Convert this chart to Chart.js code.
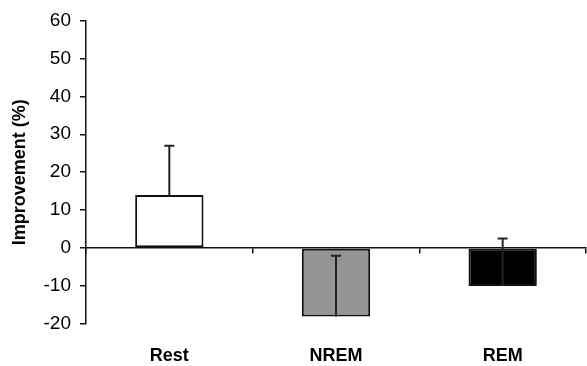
<!DOCTYPE html>
<html>
<head>
<meta charset="utf-8">
<script src="https://cdn.jsdelivr.net/npm/chart.js@4.4.0/dist/chart.umd.min.js"></script>
<style>
  html,body{margin:0;padding:0;background:#fff;}
  #wrap{width:587px;height:366px;}
</style>
</head>
<body>
<div id="wrap"><canvas id="chart"></canvas></div>
<script>
// Data
const categories = ['Rest', 'NREM', 'REM'];
const improvement = [14, -18, -10];
const errorTop = [27, -2, 2.5];
const barColors = ['#ffffff', '#959595', '#000000'];

// Error bars, drawn from each bar's value up to errorTop
const errorBars = {
  id: 'errorBars',
  afterDatasetsDraw(chart) {
    const {ctx, scales: {x, y}} = chart;
    ctx.save();
    ctx.strokeStyle = '#222';
    ctx.lineWidth = 2;
    errorTop.forEach((v, i) => {
      const px = x.getPixelForValue(i);
      const y0 = y.getPixelForValue(improvement[i]);
      const y1 = y.getPixelForValue(v);
      ctx.beginPath();
      ctx.moveTo(px, y0); ctx.lineTo(px, y1);
      ctx.moveTo(px - 5, y1); ctx.lineTo(px + 5, y1);
      ctx.stroke();
    });
    ctx.restore();
  }
};

const ctx = document.getElementById('chart').getContext('2d');
new Chart(ctx, {
  type: 'bar',
  data: {
    labels: categories,
    datasets: [{
      data: improvement,
      backgroundColor: barColors,
      borderColor: '#111',
      borderWidth: 2,
      borderSkipped: false,
      categoryPercentage: 1,
      barPercentage: 0.41
    }]
  },
  options: {
    responsive: true,
    maintainAspectRatio: false,
    animation: false,
    layout: {padding: {top: 14, right: 1, left: 9, bottom: 0}},
    plugins: {legend: {display: false}, tooltip: {enabled: false}},
    scales: {
      x: {
        position: {y: 0},
        offset: true,
        border: {color: '#111', width: 1.5},
        grid: {offset: true, drawOnChartArea: false, drawTicks: true, tickLength: 5, color: '#111', lineWidth: 1.5},
        ticks: {display: false}
      },
      x2: {
        type: 'category',
        position: 'bottom',
        offset: true,
        border: {display: false},
        grid: {display: false},
        ticks: {color: '#000', padding: 13, font: {family: 'Liberation Sans', size: 18, weight: 'bold'}},
        afterFit(s) { s.height = 42; }
      },
      y: {
        min: -20, max: 60,
        border: {color: '#111', width: 1.5},
        grid: {drawOnChartArea: false, drawTicks: true, tickLength: 6, color: '#111', lineWidth: 1.5},
        ticks: {stepSize: 10, color: '#000', padding: 9, font: {family: 'Liberation Sans', size: 19}},
        title: {display: true, text: 'Improvement (%)', color: '#000', padding: {top: 0, bottom: 9}, font: {family: 'Liberation Sans', size: 18, weight: 'bold'}},
        afterFit(s) { s.width = 77; }
      }
    }
  },
  plugins: [errorBars]
});
</script>
</body>
</html>
